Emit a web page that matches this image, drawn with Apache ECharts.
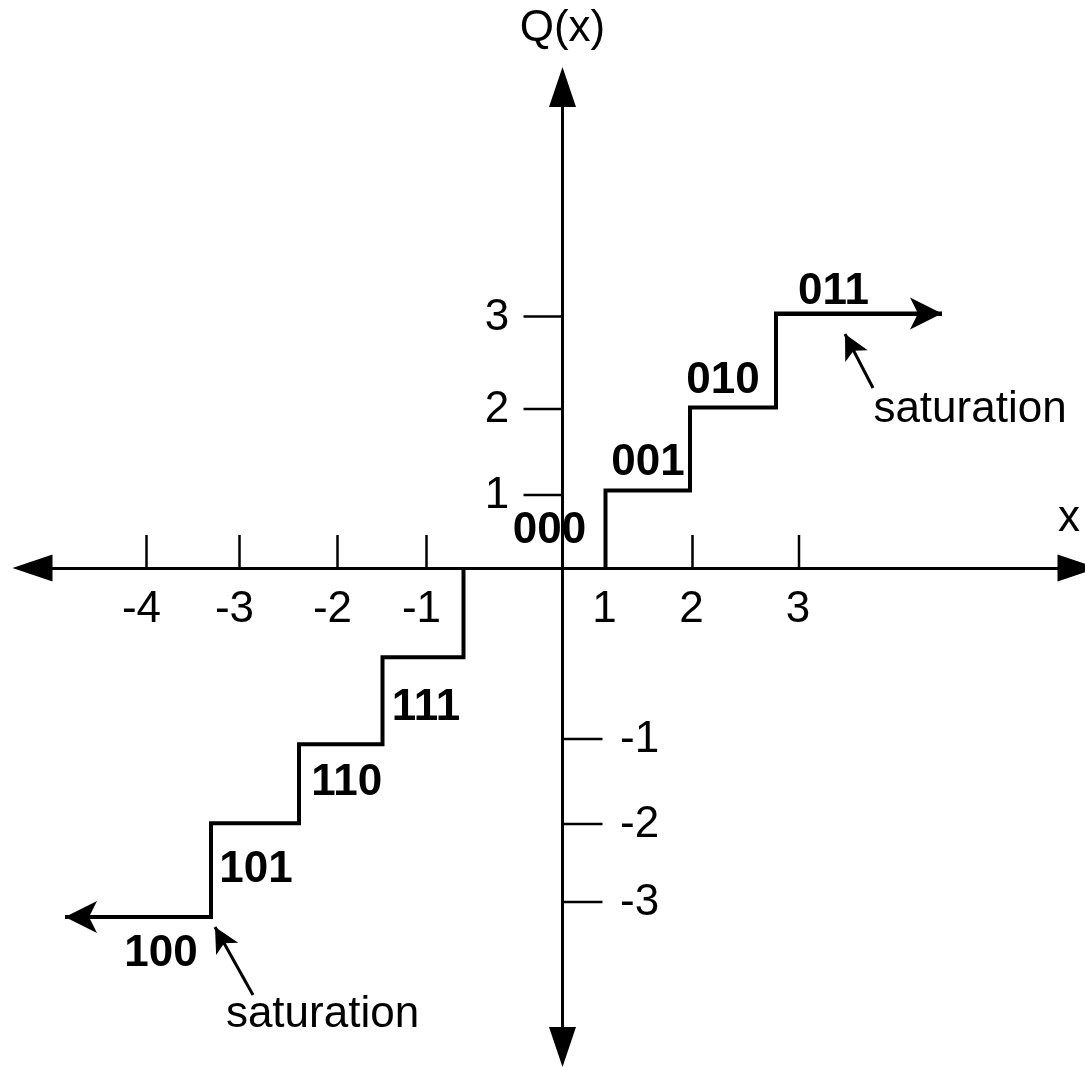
<!DOCTYPE html>
<html>
<head>
<meta charset="utf-8">
<script src="https://cdn.jsdelivr.net/npm/echarts/dist/echarts.min.js"></script>
<style>
  html, body { margin: 0; padding: 0; background: #fff; }
  #chart { width: 1085px; height: 1067px; }
</style>
</head>
<body>
<div id="chart"></div>
<script>
// Transfer characteristic Q(x) of a 3-bit uniform quantizer with saturation.
// Everything is given in drawing units (one unit = one drawing grid step).

// tick marks along x and their labels
const xTickPos = [-4.16, -3.23, -2.25, -1.36, 0.43, 1.30, 2.365];
const xTickLabels = ['-4', '-3', '-2', '-1', '1', '2', '3'];

// tick marks along Q(x) and their labels
const yTickPos = [0.73, 1.59, 2.515, -1.71, -2.56, -3.34];
const yTickLabels = ['1', '2', '3', '-1', '-2', '-3'];

// positive half: decision thresholds and output levels
const posRisers = [0.43, 1.275, 2.135];
const posLevels = [0.775, 1.605, 2.545];
const posSatEnd = 3.795;

// negative half: decision thresholds and output levels
const negRisers = [-0.99, -1.8, -2.635, -3.515];
const negLevels = [-0.893, -1.763, -2.553, -3.49];
const negSatEnd = -4.975;

// binary output codes
const posCodes = ['000', '001', '010', '011'];
const negCodes = ['111', '110', '101', '100'];

const FONT = 'Liberation Sans';
const INK = '#000';

// where each code word sits, in drawing units
const posCodeAt = [[-0.13, 0.39], [0.855, 1.07], [1.605, 1.89], [2.71, 2.785]];
const negCodeAt = [[-1.365, -1.38], [-2.158, -2.13], [-3.065, -3.0], [-4.015, -3.84]];

// "saturation" notes: text anchor, pointer tail, pointer tip
const satNotes = [
  { at: [4.075, 1.58], from: [3.105, 1.80], to: [2.825, 2.34] },
  { at: [-2.4, -4.47], from: [-3.095, -4.27], to: [-3.475, -3.59] }
];

// label of the horizontal axis, next to its arrow
const xAxisTitleAt = [5.065, 0.49];

// staircase corner points built from thresholds and levels
function stairPath(risers, levels, end) {
  const pts = [[risers[0], 0]];
  risers.forEach(function (r, i) {
    const next = i + 1 < risers.length ? risers[i + 1] : end;
    pts.push([r, levels[i]]);
    pts.push([next, levels[i]]);
  });
  return pts;
}
const posPath = stairPath(posRisers, posLevels, posSatEnd);
const negPath = stairPath(negRisers, negLevels, negSatEnd);

function lastSegment(path) {
  return { coords: [path[path.length - 2], path[path.length - 1]] };
}

const chart = echarts.init(document.getElementById('chart'), null, { renderer: 'canvas' });

const axisCommon = {
  type: 'value',
  axisLine: {
    show: true,
    onZero: true,
    symbol: ['triangle', 'triangle'],
    symbolSize: [27, 40],
    lineStyle: { color: INK, width: 3 }
  },
  axisTick: { show: false },
  axisLabel: { show: false },
  splitLine: { show: false }
};

const textStyle = (text, bold, align) => ({
  text: text,
  fill: INK,
  fontFamily: FONT,
  fontSize: 44,
  fontWeight: bold ? 'bold' : 'normal',
  align: align || 'center',
  verticalAlign: 'middle'
});

const option = {
  backgroundColor: '#fff',
  animation: false,
  grid: { left: 32.5, right: 7.5, top: 87, bottom: 20, containLabel: false, outerBoundsMode: 'none' },
  xAxis: Object.assign({}, axisCommon, { min: -5.3, max: 5.15 }),
  yAxis: Object.assign({}, axisCommon, {
    min: -4.79, max: 4.81,
    name: 'Q(x)', nameLocation: 'end', nameGap: 58,
    nameTextStyle: {
      color: INK, fontFamily: FONT, fontSize: 44,
      align: 'center', verticalAlign: 'middle'
    }
  }),
  series: [
    // staircases
    {
      type: 'line', data: posPath, symbol: 'none', silent: true,
      lineStyle: { color: INK, width: 4, join: 'miter' }, z: 5
    },
    {
      type: 'line', data: negPath, symbol: 'none', silent: true,
      lineStyle: { color: INK, width: 4, join: 'miter' }, z: 5
    },
    // saturation arrows at the open ends
    {
      type: 'lines', coordinateSystem: 'cartesian2d', silent: true, z: 5,
      data: [lastSegment(posPath), lastSegment(negPath)],
      symbol: ['none', 'arrow'], symbolSize: [1, [24, 32]],
      lineStyle: { color: INK, width: 4, opacity: 1 }
    },
    // pointers from the "saturation" notes
    {
      type: 'lines', coordinateSystem: 'cartesian2d', silent: true, z: 5,
      data: satNotes.map(n => ({ coords: [n.from, n.to] })),
      symbol: ['none', 'arrow'], symbolSize: [1, [19, 25]],
      lineStyle: { color: INK, width: 3, opacity: 1 }
    },
    // x ticks with labels
    {
      type: 'custom', coordinateSystem: 'cartesian2d', silent: true, z: 4,
      data: xTickPos.map((v, i) => [v, 0, i]),
      renderItem: function (params, api) {
        const v = api.value(0);
        const p = api.coord([v, 0]);
        return {
          type: 'group',
          children: [
            { type: 'line', shape: { x1: p[0], y1: p[1], x2: p[0], y2: p[1] - 33 },
              style: { stroke: INK, lineWidth: 2.5 } },
            { type: 'text', x: p[0] + (v < 0 ? -5 : -1), y: p[1] + 42,
              style: textStyle(xTickLabels[api.value(2)], false) }
          ]
        };
      }
    },
    // Q(x) ticks with labels
    {
      type: 'custom', coordinateSystem: 'cartesian2d', silent: true, z: 4,
      data: yTickPos.map((v, i) => [0, v, i]),
      renderItem: function (params, api) {
        const v = api.value(1);
        const p = api.coord([0, v]);
        const up = v > 0;
        return {
          type: 'group',
          children: [
            { type: 'line',
              shape: { x1: p[0], y1: p[1], x2: up ? p[0] - 39 : p[0] + 40, y2: p[1] },
              style: { stroke: INK, lineWidth: 2.5 } },
            { type: 'text', x: up ? p[0] - 65.5 : p[0] + 57.5, y: p[1] + 1,
              style: textStyle(yTickLabels[api.value(2)], false, up ? 'center' : 'left') }
          ]
        };
      }
    },
    // code words
    {
      type: 'custom', coordinateSystem: 'cartesian2d', silent: true, z: 6,
      data: posCodeAt.concat(negCodeAt),
      renderItem: function (params, api) {
        const p = api.coord([api.value(0), api.value(1)]);
        const idx = params.dataIndex;
        const code = idx < posCodes.length ? posCodes[idx] : negCodes[idx - posCodes.length];
        return { type: 'text', x: p[0], y: p[1] + 2, style: textStyle(code, true) };
      }
    },
    // "saturation" notes and the x axis title
    {
      type: 'custom', coordinateSystem: 'cartesian2d', silent: true, z: 6,
      data: satNotes.map(n => n.at).concat([xAxisTitleAt]),
      renderItem: function (params, api) {
        const p = api.coord([api.value(0), api.value(1)]);
        const label = params.dataIndex < satNotes.length ? 'saturation' : 'x';
        return { type: 'text', x: p[0], y: p[1], style: textStyle(label, false) };
      }
    }
  ]
};

chart.setOption(option);
</script>
</body>
</html>
